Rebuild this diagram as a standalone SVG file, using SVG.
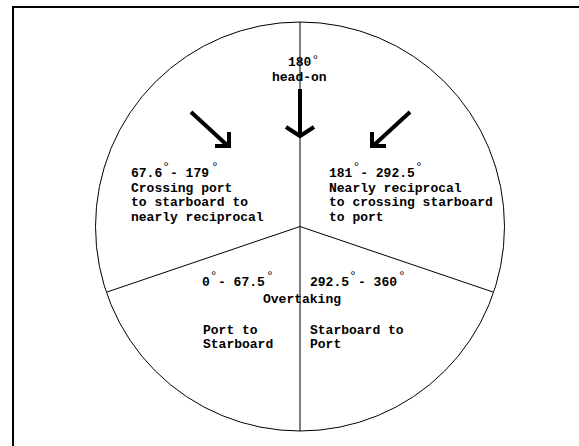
<svg xmlns="http://www.w3.org/2000/svg" width="579" height="446" viewBox="0 0 579 446">
<style>
.t{font-family:"Liberation Mono","Courier New",monospace;font-size:13px;font-weight:bold;fill:#000}
.d{font-size:13px;font-weight:normal}
.ln{stroke:#000;stroke-width:1;fill:none}
.ar{stroke:#000;stroke-width:4;fill:none;stroke-linecap:butt;stroke-linejoin:miter}
</style>
<rect width="579" height="446" fill="#fff"/>
<rect id="frame" x="13" y="7" width="620" height="500" fill="none" stroke="#000" stroke-width="2"/>
<g id="dial">
<circle class="ln" cx="300" cy="226.5" r="204.5"/>
</g>
<g id="connectors">
<line class="ln" x1="300" y1="22" x2="300" y2="431"/>
<line class="ln" x1="300" y1="226.5" x2="107" y2="292"/>
<line class="ln" x1="300" y1="226.5" x2="493" y2="292"/>
<path class="ar" d="M191,112 L228,146"/>
<path class="ar" d="M215,146 L229,146 L229,132"/>
<path class="ar" d="M300,89 L300,136"/>
<path class="ar" d="M286,127 L300,136 L314,127"/>
<path class="ar" d="M410,112 L373,146"/>
<path class="ar" d="M386,146 L372,146 L372,132"/>
</g>
<g id="head-on">
<text class="t" x="288" y="66">180<tspan class="d" x="311.5" dy="-2">°</tspan></text>
<text class="t" x="272" y="81">head-on</text>
</g>
<g id="crossing-port">
<text class="t" x="131" y="177">67.6<tspan class="d" x="162.2" dy="-6.5">°</tspan><tspan x="170" dy="6.5">- 179</tspan><tspan class="d" x="211" dy="-6.5">°</tspan></text>
<text class="t" x="131" y="192">Crossing port</text>
<text class="t" x="131" y="206">to starboard to</text>
<text class="t" x="131" y="221">nearly reciprocal</text>
</g>
<g id="reciprocal-starboard">
<text class="t" x="329" y="177">181<tspan class="d" x="352.4" dy="-6.5">°</tspan><tspan x="360.2" dy="6.5">- 292.5</tspan><tspan class="d" x="415" dy="-6.5">°</tspan></text>
<text class="t" x="329" y="192">Nearly reciprocal</text>
<text class="t" x="329" y="206">to crossing starboard</text>
<text class="t" x="329" y="221">to port</text>
</g>
<g id="overtaking-port">
<text class="t" x="202" y="286">0<tspan class="d" x="209.8" dy="-6.5">°</tspan><tspan x="218" dy="6.5">- 67.5</tspan><tspan class="d" x="266" dy="-6.5">°</tspan></text>
<text class="t" x="203" y="334">Port to</text>
<text class="t" x="203" y="348">Starboard</text>
</g>
<g id="overtaking">
<text class="t" x="263" y="303">Overtaking</text>
</g>
<g id="overtaking-starboard">
<text class="t" x="310" y="286">292.5<tspan class="d" x="349" dy="-6.5">°</tspan><tspan x="358" dy="6.5">- 360</tspan><tspan class="d" x="398" dy="-6.5">°</tspan></text>
<text class="t" x="310" y="334">Starboard to</text>
<text class="t" x="310" y="348">Port</text>
</g>
</svg>
